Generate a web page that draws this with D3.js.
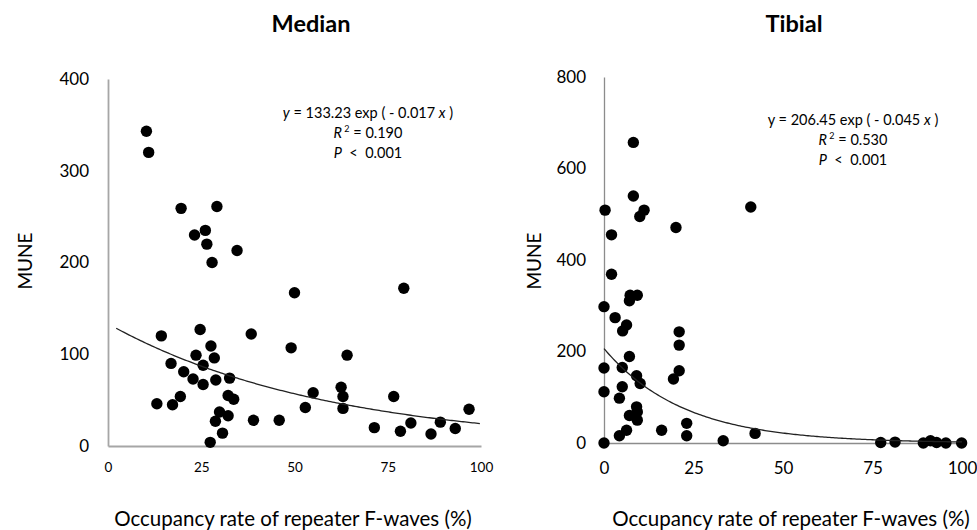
<!DOCTYPE html>
<html>
<head>
<meta charset="utf-8">
<script src="https://cdn.jsdelivr.net/npm/d3@7"></script>
<style>
  body { margin: 0; background: #fff; }
  text { font-family: Lato, "Open Sans", sans-serif; fill: #000; }
</style>
</head>
<body>
<div id="chartContainer"></div>
<script>
// Data
const xTicks = [0, 25, 50, 75, 100];

const medianYTicks = [0, 100, 200, 300, 400];
const medianX = [10.3, 10.9, 19.6, 29.2, 23.2, 26.1, 26.5, 34.6, 27.9, 50.0,
  79.3, 14.3, 24.7, 38.4, 27.6, 49.1, 64.1, 23.6, 28.5, 16.9,
  25.5, 20.3, 22.8, 28.9, 32.6, 25.5, 62.5, 55.0, 63.0, 76.6,
  32.2, 33.7, 19.4, 13.1, 17.3, 52.9, 63.0, 96.8, 29.9, 32.2,
  28.8, 39.0, 45.9, 81.2, 89.1, 71.4, 93.1, 78.4, 86.6, 30.7, 27.4];
const medianY = [343, 320, 259, 261, 230, 235, 220, 213, 200, 167,
  172, 120, 127, 122, 109, 107, 99, 99, 96, 90,
  88, 81, 73, 72, 74, 67, 64, 58, 54, 54,
  55, 51, 54, 46, 45, 42, 41, 40, 37, 33,
  27, 28, 28, 25, 26, 20, 19, 16, 13, 14, 4];

const tibialYTicks = [0, 200, 400, 600, 800];
const tibialX = [8.2, 8.2, 0.3, 11.2, 10.0, 2.1, 20.1, 41.0, 2.1, 0,
  7.3, 9.3, 7.1, 3.1, 6.3, 5.2, 21.0, 21.0, 7.1, 0,
  5.1, 21.0, 19.4, 9.1, 10.1, 5.1, 0, 4.3, 9.1, 9.3,
  7.1, 9.3, 6.3, 4.3, 16.1, 23.1, 23.1, 33.3, 42.2, 0,
  77.3, 81.3, 89.2, 91.2, 92.9, 95.5, 99.9];
const tibialY = [657, 540, 509, 509, 495, 455, 471, 516, 369, 298,
  323, 323, 311, 274, 258, 245, 243, 214, 189, 164,
  165, 158, 140, 147, 130, 123, 112, 98, 79, 68,
  60, 50, 28, 16, 28, 43, 16, 5, 21, 0,
  1, 2, 0, 5, 1, 0, 0];

// Fitted curves y = a exp(-b x), from the equations printed on the chart
const medianFit = { a: 133.23, b: 0.017, from: 2.2 };
const tibialFit = { a: 206.45, b: 0.045, from: 0 };

const w = 977;
const h = 530;

const svg = d3.select("#chartContainer")
  .append("svg")
    .attr("width", w)
    .attr("height", h);

function drawPanel(p) {
  const xScale = d3.scaleLinear().domain([0, 100]).range([p.left, p.right]);
  const yScale = d3.scaleLinear().domain([0, p.yMax]).range([p.bottom, p.top]);

  const g = svg.append("g");

  // Axis lines (no tick marks in the original)
  const xAxis = g.append("g")
    .attr("transform", `translate(0, ${p.bottom})`)
    .call(d3.axisBottom(xScale).tickValues(xTicks).tickSize(0).tickPadding(p.xPad));
  xAxis.select(".domain").attr("stroke", p.axisColor).attr("stroke-width", p.axisWidth);
  xAxis.selectAll("text").attr("font-size", p.xTickSize).attr("font-family", "Lato");

  const yAxis = g.append("g")
    .attr("transform", `translate(${p.left}, 0)`)
    .call(d3.axisLeft(yScale).tickValues(p.yTicks).tickSize(0).tickPadding(p.yPad));
  yAxis.select(".domain").attr("stroke", p.axisColor).attr("stroke-width", p.axisWidth);
  yAxis.selectAll("text").attr("font-size", 17).attr("font-family", "Lato");

  // Points
  g.selectAll("circle")
    .data(d3.zip(p.xs, p.ys))
    .enter()
    .append("circle")
      .attr("cx", d => xScale(d[0]))
      .attr("cy", d => yScale(d[1]))
      .attr("r", 5.7)
      .attr("fill", "#000");

  // Trend curve
  const curve = d3.range(p.fit.from, 100.01, 0.5).map(x => [x, p.fit.a * Math.exp(-p.fit.b * x)]);
  g.append("path")
    .datum(curve)
    .attr("fill", "none")
    .attr("stroke", "#222")
    .attr("stroke-width", 1.3)
    .attr("d", d3.line().x(d => xScale(d[0])).y(d => yScale(d[1])));

  // Titles
  g.append("text")
    .text(p.title)
    .attr("x", p.titleX)
    .attr("y", 32)
    .attr("font-size", 23.5)
    .attr("font-weight", "bold")
    .attr("text-anchor", "middle");

  g.append("text")
    .text("MUNE")
    .attr("transform", `translate(${p.yLabelX}, 261) rotate(-90)`)
    .attr("font-size", 19)
    .attr("text-anchor", "middle");

  g.append("text")
    .text("Occupancy rate of repeater F-waves (%)")
    .attr("x", p.xLabelX)
    .attr("y", 526)
    .attr("font-size", 20.5)
    .attr("text-anchor", "middle");

  // Equation block
  const eq = g.append("text")
    .attr("x", p.eqX)
    .attr("y", p.eqY)
    .attr("font-size", 14.5)
    .attr("text-anchor", "middle");
  eq.append("tspan").text("y").attr("font-style", p.yItalic ? "italic" : "normal");
  eq.append("tspan").text(` = ${p.fit.a} exp ( - ${p.fit.b} `);
  eq.append("tspan").text("x").attr("font-style", "italic");
  eq.append("tspan").text(" )");

  const r2 = g.append("text")
    .attr("x", p.eqX)
    .attr("y", p.eqY + 19.5)
    .attr("font-size", 14.5)
    .attr("text-anchor", "middle");
  r2.append("tspan").text("R").attr("font-style", "italic");
  r2.append("tspan").text(" 2").attr("font-size", 9).attr("dy", -6);
  r2.append("tspan").text(" =  " + p.r2).attr("dy", 6);

  const pv = g.append("text")
    .attr("x", p.eqX)
    .attr("y", p.eqY + 39.5)
    .attr("font-size", 14.5)
    .attr("text-anchor", "middle");
  pv.append("tspan").text("P").attr("font-style", "italic");
  pv.append("tspan").text("  <  0.001").attr("xml:space", "preserve");
}

drawPanel({
  title: "Median", titleX: 311,
  xs: medianX, ys: medianY, yMax: 400, yTicks: medianYTicks,
  left: 108, right: 481, top: 79, bottom: 446,
  xTickSize: 13.5, xPad: 16, yPad: 19,
  axisColor: "#a6a6a6", axisWidth: 1.8,
  fit: medianFit, r2: "0.190", yItalic: true,
  eqX: 368, eqY: 118,
  yLabelX: 32, xLabelX: 293
});

drawPanel({
  title: "Tibial", titleX: 794,
  xs: tibialX, ys: tibialY, yMax: 800, yTicks: tibialYTicks,
  left: 604, right: 962, top: 77, bottom: 443,
  xTickSize: 17, xPad: 19, yPad: 18,
  axisColor: "#8c8c8c", axisWidth: 1.3,
  fit: tibialFit, r2: "0.530", yItalic: false,
  eqX: 853, eqY: 125,
  yLabelX: 541, xLabelX: 791
});
</script>
</body>
</html>
